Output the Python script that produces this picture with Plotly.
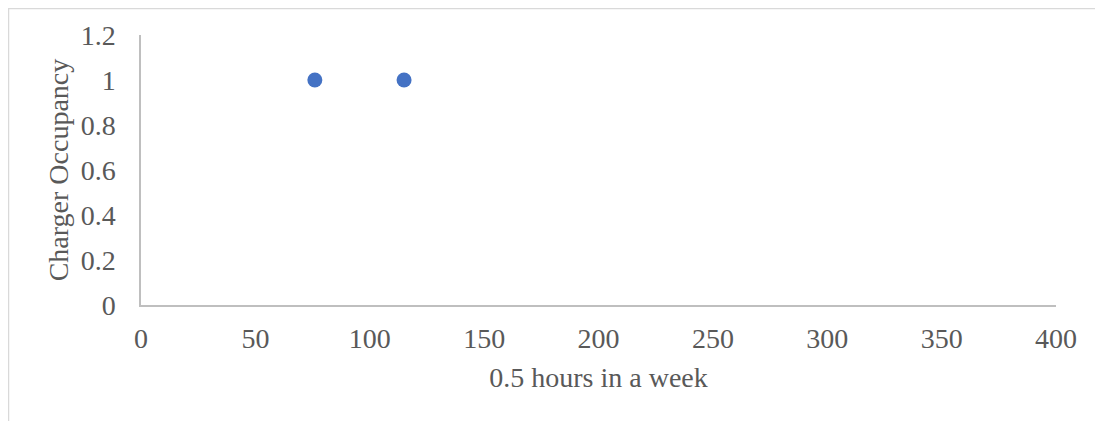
import plotly.graph_objects as go

# Data
x_values = [76, 115]
y_values = [1, 1]
x_ticks = [0, 50, 100, 150, 200, 250, 300, 350, 400]
y_ticks = [0, 0.2, 0.4, 0.6, 0.8, 1, 1.2]
y_tick_labels = ["0", "0.2", "0.4", "0.6", "0.8", "1", "1.2"]
x_title = "0.5 hours in a week"
y_title = "Charger Occupancy"

FONT = "Liberation Serif, Times New Roman, serif"
TICK_COLOR = "#595959"
AXIS_COLOR = "#BFBFBF"
FS = 28

# page body has an 8px margin; figure sized to fill the rest of the window
W, H = 1095, 413
ML, MR, MT, MB = 133, 47, 27, 116
pw = W - ML - MR
ph = H - MT - MB

fig = go.Figure()
fig.add_trace(go.Scatter(
    x=x_values, y=y_values, mode="markers",
    marker=dict(color="#4472C4", size=15, line=dict(width=0)),
    showlegend=False, hoverinfo="x+y",
))

# outer chart border (decoration)
fig.add_shape(type="rect", xref="paper", yref="paper",
              x0=(0.5 - ML) / pw, x1=(W + 20 - ML) / pw,
              y0=(H - MB - (H + 20)) / ph, y1=(H - MB - 0.5) / ph,
              line=dict(color="#D9D9D9", width=1.5), layer="below")

fig.update_layout(
    width=W, height=H,
    margin=dict(l=ML, r=MR, t=MT, b=MB),
    paper_bgcolor="white", plot_bgcolor="white",
    font=dict(family=FONT, size=FS, color=TICK_COLOR),
    xaxis=dict(
        range=[0, 400], tickmode="array", tickvals=x_ticks,
        showgrid=False, zeroline=False,
        showline=True, linecolor=AXIS_COLOR, linewidth=1.5,
        ticks="", ticklabelstandoff=8,
        tickfont=dict(family=FONT, size=FS, color=TICK_COLOR),
        title=dict(text=x_title, font=dict(family=FONT, size=FS, color=TICK_COLOR), standoff=14),
        fixedrange=True,
    ),
    yaxis=dict(
        range=[0, 1.2], tickmode="array", tickvals=y_ticks, ticktext=y_tick_labels,
        showgrid=False, zeroline=False,
        showline=True, linecolor=AXIS_COLOR, linewidth=1.5,
        ticks="", ticklabelstandoff=18,
        tickfont=dict(family=FONT, size=FS, color=TICK_COLOR),
        title=dict(text=y_title, font=dict(family=FONT, size=FS, color=TICK_COLOR), standoff=4),
        fixedrange=True,
    ),
)

fig.write_html("out.html")
